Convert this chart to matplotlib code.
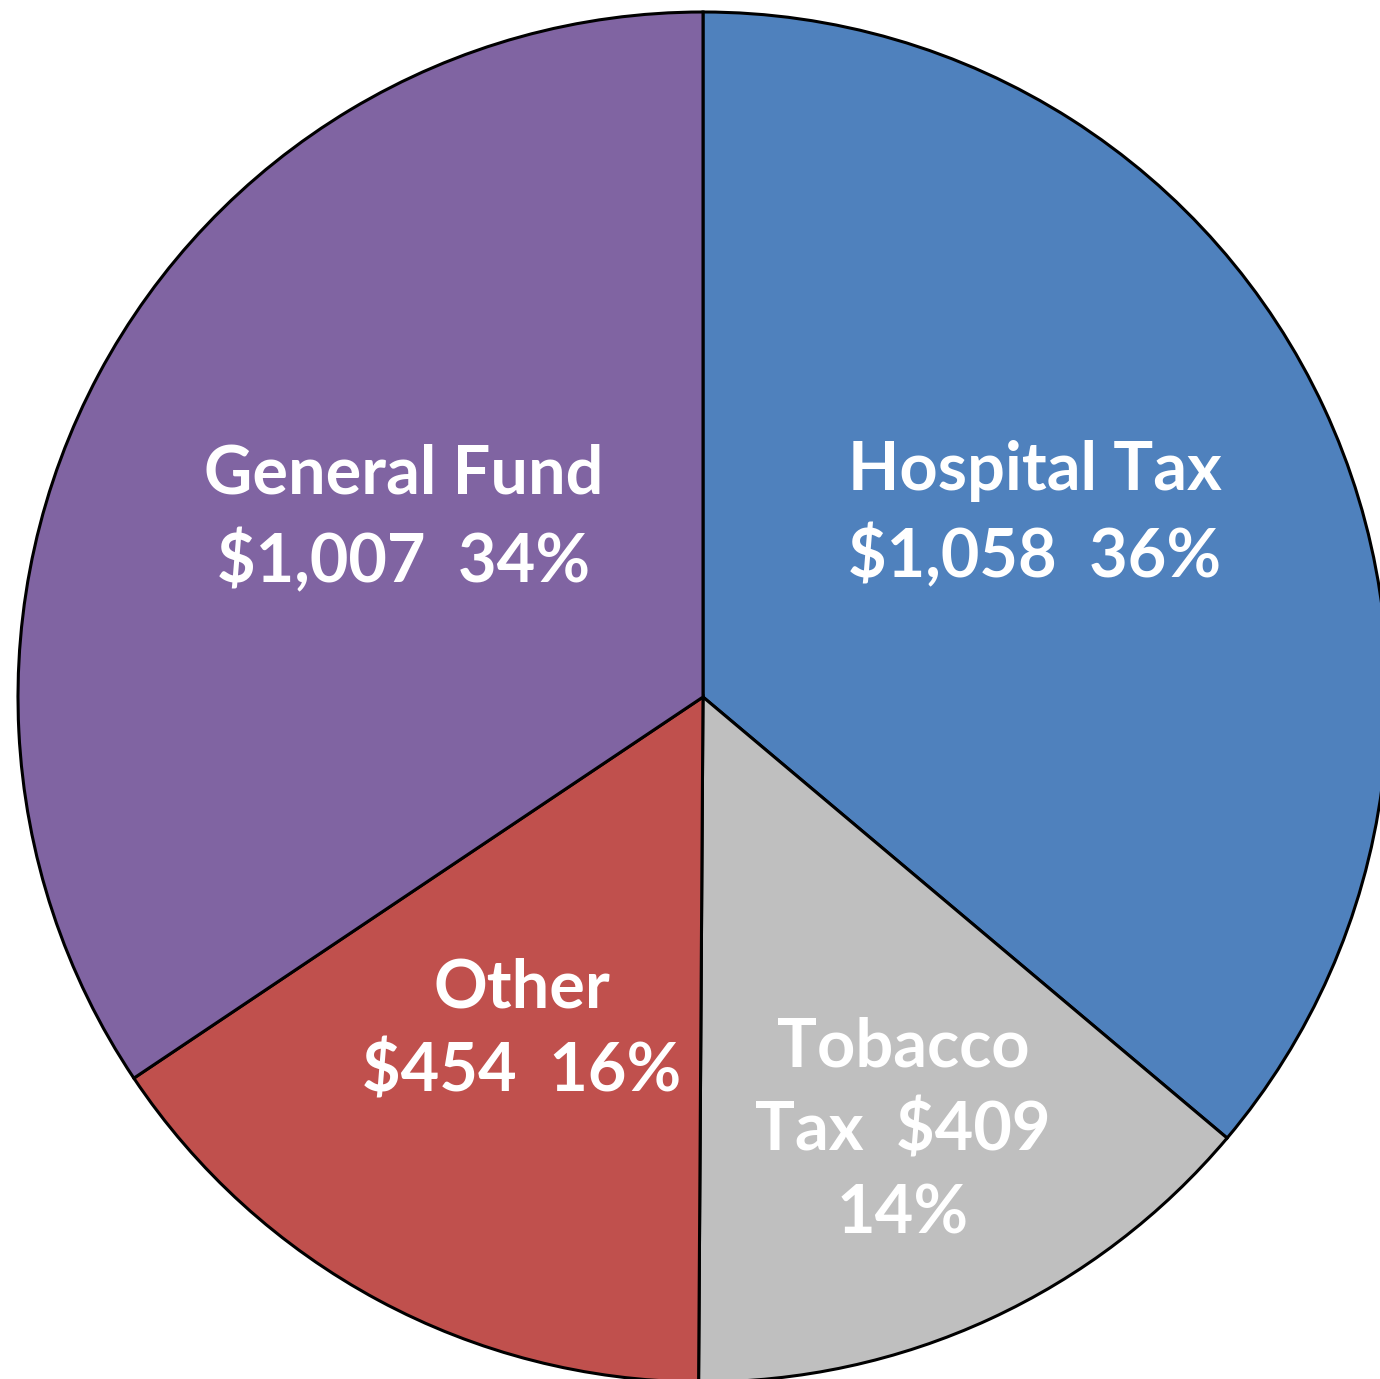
import matplotlib
matplotlib.use("Agg")
import matplotlib.pyplot as plt

# Funding sources (millions of dollars)
categories = ["Hospital Tax", "Tobacco Tax", "Other", "General Fund"]
amounts = [1058, 409, 454, 1007]
percents = [36, 14, 16, 34]
colors = ["#4F81BD", "#BFBFBF", "#C0504D", "#8064A2"]

labels = [
    f"Hospital Tax\n${amounts[0]:,}  {percents[0]}%",
    f"Tobacco\nTax  ${amounts[1]:,}\n{percents[1]}%",
    f"Other\n${amounts[2]:,}  {percents[2]}%",
    f"General Fund\n${amounts[3]:,}  {percents[3]}%",
]
# label centres in axes data units (pie radius = 1)
label_pos = [(0.484, 0.266), (0.292, -0.634), (-0.265, -0.487), (-0.437, 0.260)]

W, H = 1380, 1379
cx, cy, r = 703, 697, 685

fig = plt.figure(figsize=(W / 100, H / 100), dpi=100)
ax = fig.add_axes([0, 0, 1, 1])
ax.pie(amounts, colors=colors, startangle=90, counterclock=False,
       radius=1.0, wedgeprops=dict(edgecolor="black", linewidth=2.2))
ax.set_xlim(-cx / r, (W - cx) / r)
ax.set_ylim(-(H - cy) / r, cy / r)
ax.set_aspect("auto")
ax.axis("off")

for text, (x, y) in zip(labels, label_pos):
    ax.text(x, y, text, ha="center", va="center", color="white",
            fontsize=48, fontweight="bold", family=["Lato", "DejaVu Sans"],
            linespacing=1.43)

fig.savefig("out.png", dpi=100, facecolor="white")
